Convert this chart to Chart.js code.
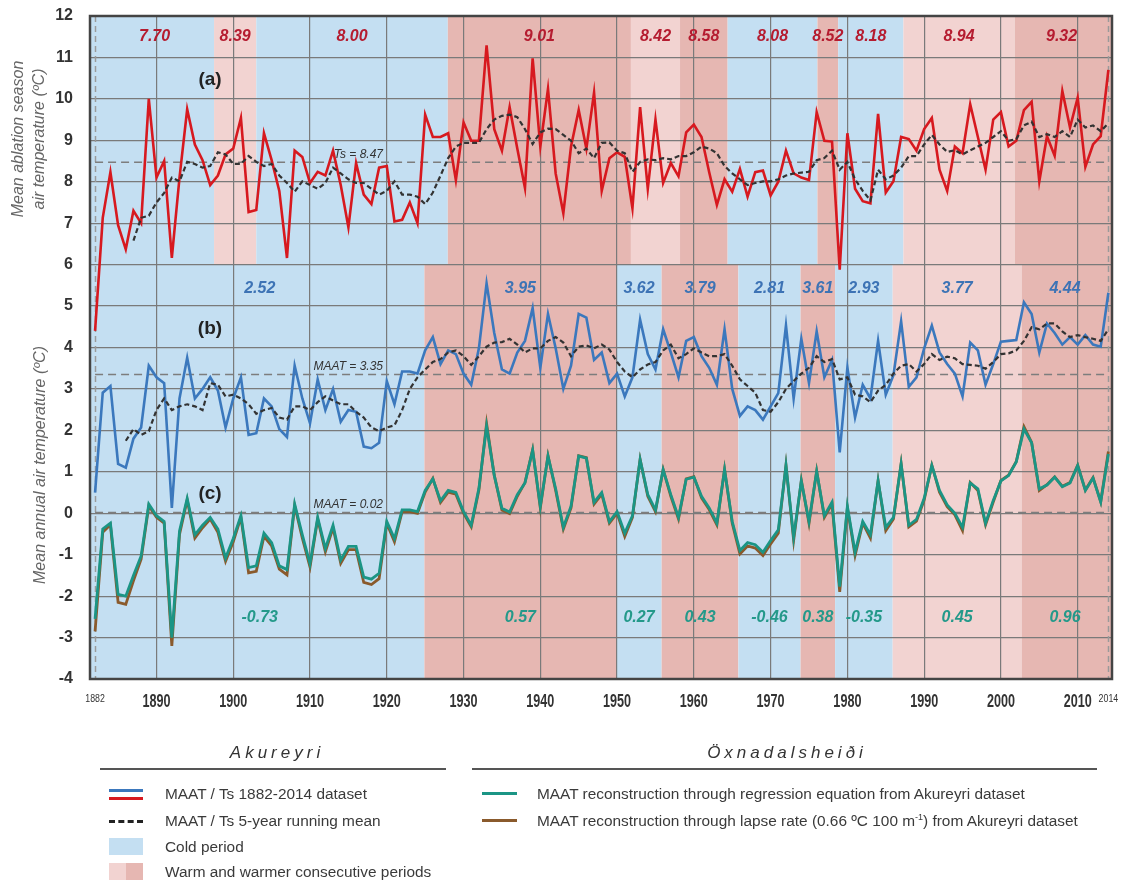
<!DOCTYPE html>
<html><head><meta charset="utf-8">
<script src="https://cdn.jsdelivr.net/npm/chart.js@4.4.1/dist/chart.umd.min.js"></script>
<style>
html,body{margin:0;padding:0;background:#fff;}
#wrap{position:relative;width:1128px;height:883px;overflow:hidden;font-family:"Liberation Sans",Arial,sans-serif;}
#c{position:absolute;left:0;top:0;}
.t{position:absolute;font-size:15.4px;color:#3a3a3a;white-space:nowrap;line-height:16px;}
.hd{position:absolute;font-size:17px;font-style:italic;color:#333;letter-spacing:4px;text-align:center;line-height:18px;}
.rule{position:absolute;height:2px;background:#555;}
.mk{position:absolute;}
</style></head>
<body><div id="wrap">
<canvas id="c" width="1128" height="883"></canvas>
<div class="hd" style="left:175px;top:744px;width:204px;">Akureyri</div>
<div class="hd" style="left:655px;top:744px;width:264px;">Öxnadalsheiði</div>
<div class="rule" style="left:100px;top:768px;width:346px;"></div>
<div class="rule" style="left:472px;top:768px;width:625px;"></div>

<div class="mk" style="left:109px;top:789px;width:34px;height:3px;background:#3b78bd;"></div>
<div class="mk" style="left:109px;top:797px;width:34px;height:3px;background:#d7191f;"></div>
<div class="t" style="left:165px;top:786px;">MAAT / Ts 1882-2014 dataset</div>

<div class="mk" style="left:109px;top:820px;width:34px;height:0;border-top:3px dashed #222;"></div>
<div class="t" style="left:165px;top:813px;">MAAT / Ts 5-year running mean</div>

<div class="mk" style="left:109px;top:838px;width:34px;height:17px;background:#c4dff2;"></div>
<div class="t" style="left:165px;top:839px;">Cold period</div>

<div class="mk" style="left:109px;top:863px;width:17px;height:17px;background:#f2d3d1;"></div>
<div class="mk" style="left:126px;top:863px;width:17px;height:17px;background:#e6b7b2;"></div>
<div class="t" style="left:165px;top:864px;">Warm and warmer consecutive periods</div>

<div class="mk" style="left:482px;top:792px;width:35px;height:3px;background:#1b9585;"></div>
<div class="t" style="left:537px;top:786px;">MAAT reconstruction through regression equation from Akureyri dataset</div>
<div class="mk" style="left:482px;top:819px;width:35px;height:3px;background:#8a5a2c;"></div>
<div class="t" style="left:537px;top:813px;">MAAT reconstruction through lapse rate (0.66 ºC 100 m<sup style="font-size:9px;line-height:0;">-1</sup>) from Akureyri dataset</div>
</div>
<script>
// ---------------- DATA ----------------
const years = [];
for (let yr = 1882; yr <= 2014; yr++) years.push(yr);

// Akureyri mean ablation season air temperature (Ts), 1882-2014
const tsAkureyri = [
  4.40, 7.13, 8.23, 6.95, 6.37, 7.30, 7.00, 10.00,
  8.10, 8.50, 6.16, 8.10, 9.75, 8.90, 8.52, 7.92, 8.15, 8.66,
  8.80, 9.54, 7.27, 7.32, 9.17, 8.52, 7.78, 6.16, 8.75, 8.60,
  7.97, 8.24, 8.15, 8.75, 7.92, 6.90, 8.45, 7.69, 7.46, 8.34,
  8.38, 7.04, 7.08, 7.50, 7.00, 9.62, 9.08, 9.08, 9.17, 8.04,
  9.43, 8.99, 8.99, 11.29, 9.27, 8.75, 9.80, 8.80, 7.85, 10.98,
  8.85, 10.24, 8.20, 7.24, 8.85, 9.73, 8.80, 10.15, 7.78, 8.57,
  8.71, 8.60, 7.36, 9.80, 7.83, 9.50, 7.97, 8.45, 8.13, 9.19,
  9.38, 9.08, 8.23, 7.44, 8.06, 7.76, 8.31, 7.64, 8.23, 8.27,
  7.67, 8.00, 8.75, 8.20, 8.10, 8.04, 9.68, 8.99, 8.97, 5.88,
  9.17, 7.83, 7.53, 7.48, 9.64, 7.74, 8.01, 9.08, 9.03, 8.75,
  9.27, 9.54, 8.29, 7.78, 8.85, 8.69, 9.87, 9.08, 8.29, 9.50,
  9.68, 8.85, 8.99, 9.73, 9.93, 8.01, 9.10, 8.63, 10.19, 9.31,
  10.03, 8.36, 8.90, 9.10, 10.70
];
// Ts 5-year running mean (starts 1887)
const tsRunningMean = [
  null, null, null, null, null, 6.58, 7.13, 7.18,
  7.50, 7.73, 8.10, 8.01, 8.48, 8.43, 8.34, 8.38, 8.71, 8.66,
  8.43, 8.43, 8.62, 8.48, 8.38, 8.43, 8.15, 7.97, 7.76, 8.01,
  7.92, 7.83, 7.97, 8.34, 8.20, 8.06, 7.97, 7.97, 7.83, 7.69,
  7.78, 8.01, 7.69, 7.69, 7.64, 7.46, 7.74, 8.15, 8.57, 8.85,
  8.94, 8.94, 8.94, 9.27, 9.50, 9.59, 9.62, 9.56, 9.27, 8.91,
  9.19, 9.28, 9.27, 9.13, 8.99, 8.69, 8.80, 8.57, 8.94, 8.95,
  8.75, 8.69, 8.24, 8.48, 8.54, 8.52, 8.57, 8.54, 8.62, 8.62,
  8.71, 8.85, 8.80, 8.69, 8.38, 8.20, 8.06, 7.92, 7.97, 8.01,
  8.01, 8.06, 8.15, 8.20, 8.22, 8.24, 8.52, 8.57, 8.75, 8.29,
  8.48, 8.06, 7.78, 7.55, 8.29, 8.06, 8.15, 8.34, 8.62, 8.62,
  8.90, 9.13, 8.90, 8.72, 8.76, 8.66, 8.76, 8.85, 8.94, 9.08,
  9.22, 8.99, 9.03, 9.36, 9.45, 9.08, 9.15, 9.08, 9.22, 9.08,
  9.50, 9.31, 9.36, 9.22, 9.41
];
// Akureyri mean annual air temperature (MAAT)
const maatAkureyri = [
  0.50, 2.91, 3.07, 1.19, 1.10, 1.80, 2.07, 3.56,
  3.28, 3.14, 0.13, 2.77, 3.75, 2.77, 3.00, 3.28, 2.96, 2.07,
  2.77, 3.28, 1.89, 1.93, 2.77, 2.58, 2.03, 1.84, 3.56, 2.77,
  2.17, 3.23, 2.49, 3.00, 2.21, 2.49, 2.45, 1.61, 1.57, 1.70,
  3.19, 2.63, 3.42, 3.42, 3.37, 3.93, 4.25, 3.60, 3.93, 3.84,
  3.37, 3.10, 3.98, 5.55, 4.35, 3.47, 3.37, 3.88, 4.16, 4.95,
  3.51, 4.81, 3.98, 3.00, 3.56, 4.81, 4.72, 3.70, 3.88, 3.14,
  3.37, 2.82, 3.28, 4.67, 3.84, 3.47, 4.44, 3.88, 3.28, 4.16,
  4.25, 3.79, 3.51, 3.10, 4.44, 3.00, 2.35, 2.58, 2.49, 2.26,
  2.58, 2.90, 4.53, 2.77, 4.21, 3.14, 4.39, 3.28, 3.70, 1.47,
  3.51, 2.31, 3.10, 2.77, 4.16, 2.86, 3.33, 4.63, 3.05, 3.28,
  3.98, 4.53, 3.88, 3.60, 3.37, 2.82, 4.12, 3.93, 3.10, 3.60,
  4.14, 4.16, 4.18, 5.09, 4.81, 3.88, 4.58, 4.35, 4.07, 4.25,
  4.07, 4.30, 4.07, 4.02, 5.32
];
// MAAT 5-year running mean (starts 1886)
const maatRunningMean = [
  null, null, null, null, 1.75, 2.03, 1.89, 1.98,
  2.49, 2.77, 2.49, 2.58, 2.63, 2.58, 2.49, 3.14, 3.10, 2.82,
  2.86, 2.77, 2.63, 2.40, 2.49, 2.54, 2.31, 2.26, 2.58, 2.58,
  2.49, 2.68, 2.82, 2.72, 2.63, 2.63, 2.45, 2.31, 2.07, 1.98,
  2.07, 2.12, 2.49, 3.00, 3.28, 3.47, 3.65, 3.72, 3.88, 3.93,
  3.79, 3.58, 3.79, 4.02, 4.12, 4.13, 4.21, 4.07, 3.88, 3.98,
  3.98, 4.16, 4.25, 4.12, 3.79, 4.02, 4.05, 3.98, 4.07, 3.95,
  3.65, 3.42, 3.28, 3.47, 3.59, 3.65, 3.93, 4.07, 3.74, 3.84,
  3.98, 3.88, 3.79, 3.79, 3.84, 3.56, 3.23, 3.07, 2.91, 2.49,
  2.45, 2.68, 3.00, 3.19, 3.37, 3.51, 3.79, 3.65, 3.72, 3.23,
  3.28, 2.86, 2.82, 2.68, 2.96, 3.10, 3.37, 3.56, 3.60, 3.42,
  3.60, 3.84, 3.70, 3.78, 3.74, 3.60, 3.58, 3.56, 3.49, 3.65,
  3.84, 3.86, 3.93, 4.16, 4.49, 4.44, 4.58, 4.58, 4.39, 4.25,
  4.30, 4.25, 4.21, 4.16, 4.44
];
// Öxnadalsheiði MAAT reconstruction, regression equation
const maatRegression = [
  -2.55, -0.38, -0.24, -1.96, -2.00, -1.50, -1.03, 0.22,
  -0.06, -0.20, -3.00, -0.43, 0.36, -0.52, -0.29, -0.10, -0.38, -1.08,
  -0.61, -0.06, -1.31, -1.27, -0.48, -0.71, -1.27, -1.36, 0.22, -0.52,
  -1.22, -0.10, -0.85, -0.29, -1.13, -0.80, -0.80, -1.54, -1.59, -1.45,
  -0.20, -0.61, 0.08, 0.08, 0.04, 0.55, 0.83, 0.30, 0.55, 0.50,
  0.04, -0.29, 0.60, 2.10, 0.91, 0.12, 0.03, 0.45, 0.73, 1.52,
  0.17, 1.38, 0.59, -0.34, 0.17, 1.38, 1.33, 0.26, 0.50, -0.20,
  0.04, -0.48, -0.06, 1.29, 0.45, 0.08, 1.05, 0.45, -0.10, 0.82,
  0.87, 0.41, 0.13, -0.24, 1.05, -0.20, -0.90, -0.71, -0.76, -0.94,
  -0.66, -0.40, 1.15, -0.57, 0.78, -0.20, 1.01, -0.06, 0.27, -1.77,
  0.17, -0.94, -0.20, -0.52, 0.78, -0.34, -0.10, 1.19, -0.29, -0.15,
  0.36, 1.15, 0.55, 0.20, 0.00, -0.34, 0.73, 0.59, -0.24, 0.31,
  0.78, 0.91, 1.24, 2.03, 1.70, 0.59, 0.68, 0.87, 0.64, 0.73,
  1.15, 0.55, 0.85, 0.27, 1.43
];
// Öxnadalsheiði MAAT reconstruction, lapse rate
const maatLapseRate = [
  -2.85, -0.46, -0.28, -2.15, -2.20, -1.63, -1.11, 0.18,
  -0.10, -0.24, -3.20, -0.51, 0.32, -0.60, -0.35, -0.14, -0.46, -1.16,
  -0.69, -0.10, -1.44, -1.40, -0.56, -0.79, -1.35, -1.49, 0.18, -0.60,
  -1.30, -0.14, -0.93, -0.35, -1.21, -0.88, -0.88, -1.67, -1.72, -1.58,
  -0.24, -0.69, 0.04, 0.04, 0.00, 0.51, 0.84, 0.26, 0.51, 0.46,
  0.00, -0.33, 0.56, 2.16, 0.92, 0.08, -0.01, 0.41, 0.74, 1.53,
  0.13, 1.39, 0.55, -0.38, 0.13, 1.39, 1.34, 0.22, 0.46, -0.24,
  0.00, -0.56, -0.10, 1.30, 0.41, 0.04, 1.06, 0.41, -0.14, 0.83,
  0.88, 0.37, 0.09, -0.28, 1.06, -0.24, -0.98, -0.79, -0.84, -1.02,
  -0.74, -0.48, 1.16, -0.65, 0.79, -0.24, 1.02, -0.10, 0.23, -1.90,
  0.13, -1.02, -0.24, -0.60, 0.79, -0.42, -0.14, 1.20, -0.33, -0.19,
  0.32, 1.16, 0.51, 0.16, -0.04, -0.42, 0.74, 0.55, -0.28, 0.27,
  0.79, 0.92, 1.25, 2.09, 1.71, 0.55, 0.69, 0.88, 0.65, 0.74,
  1.16, 0.56, 0.86, 0.28, 1.49
];

// Ts periods (top panel)
const tsPeriodStart = [1882, 1897.5, 1903.0, 1927.95, 1951.8, 1958.2, 1964.4, 1976.1, 1978.8, 1987.3, 2001.8];
const tsPeriodEnd   = [1897.5, 1903.0, 1927.95, 1951.8, 1958.2, 1964.4, 1976.1, 1978.8, 1987.3, 2001.8, 2014];
const tsPeriodKind  = ['cold','warm','cold','warmer','warm','warmer','cold','warmer','cold','warm','warmer'];
const tsPeriodMean  = ['7.70','8.39','8.00','9.01','8.42','8.58','8.08','8.52','8.18','8.94','9.32'];

// MAAT periods (lower panels)
const maatPeriodStart = [1882, 1924.9, 1949.9, 1955.8, 1965.8, 1973.9, 1978.4, 1985.9, 2002.7];
const maatPeriodEnd   = [1924.9, 1949.9, 1955.8, 1965.8, 1973.9, 1978.4, 1985.9, 2002.7, 2014];
const maatPeriodKind  = ['cold','warmer','cold','warmer','cold','warmer','cold','warm','warmer'];
const maatPeriodMean  = ['2.52','3.95','3.62','3.79','2.81','3.61','2.93','3.77','4.44'];
const oxnPeriodMean   = ['-0.73','0.57','0.27','0.43','-0.46','0.38','-0.35','0.45','0.96'];

// reference means
const refValues = [8.47, 3.35, 0.02];
const refLabels = ['Ts = 8.47', 'MAAT = 3.35', 'MAAT = 0.02'];

// axis ticks
const xTickYears = [1882, 1890, 1900, 1910, 1920, 1930, 1940, 1950, 1960, 1970, 1980, 1990, 2000, 2010, 2014];
const yTickStep = 1;

// ---------------- CHART ----------------
const toXY = arr => years.map((yr, i) => ({x: yr, y: arr[i]})).filter(p => p.y !== null);
const bandColor = {cold: '#c4dff2', warm: '#f2d3d1', warmer: '#e6b7b2'};
const FONT = '"Liberation Sans", Arial, sans-serif';
const isEdge = v => v === 1882 || v === 2014;

const deco = {
  id: 'deco',
  beforeDraw(chart) {
    const {ctx, chartArea: a, scales: {x, y}} = chart;
    ctx.save();
    ctx.fillStyle = '#fff';
    ctx.fillRect(0, 0, chart.width, chart.height);
    const yTop = y.getPixelForValue(12), yMid = y.getPixelForValue(6), yBot = y.getPixelForValue(-4);
    tsPeriodStart.forEach((s, i) => {
      const x0 = i === 0 ? a.left : x.getPixelForValue(s);
      const x1 = i === tsPeriodStart.length - 1 ? a.right : x.getPixelForValue(tsPeriodEnd[i]);
      ctx.fillStyle = bandColor[tsPeriodKind[i]];
      ctx.fillRect(x0, yTop, x1 - x0, yMid - yTop);
    });
    maatPeriodStart.forEach((s, i) => {
      const x0 = i === 0 ? a.left : x.getPixelForValue(s);
      const x1 = i === maatPeriodStart.length - 1 ? a.right : x.getPixelForValue(maatPeriodEnd[i]);
      ctx.fillStyle = bandColor[maatPeriodKind[i]];
      ctx.fillRect(x0, yMid, x1 - x0, yBot - yMid);
    });
    ctx.restore();
  },
  beforeDatasetsDraw(chart) {
    const {ctx, chartArea: a, scales: {x, y}} = chart;
    ctx.save();
    ctx.strokeStyle = '#9a9a9a';
    ctx.lineWidth = 1.5;
    ctx.setLineDash([6, 4]);
    [1882, 2014].forEach(v => {
      const xp = Math.round(x.getPixelForValue(v)) + 0.5;
      ctx.beginPath(); ctx.moveTo(xp, a.top); ctx.lineTo(xp, a.bottom); ctx.stroke();
    });
    ctx.strokeStyle = '#7d7d7d';
    ctx.setLineDash([8, 5]);
    refValues.forEach((v, i) => {
      const yp = y.getPixelForValue(v);
      ctx.beginPath(); ctx.moveTo(x.getPixelForValue(1882), yp); ctx.lineTo(x.getPixelForValue(2014), yp); ctx.stroke();
      ctx.font = 'italic 12px ' + FONT;
      ctx.fillStyle = '#333';
      ctx.textAlign = 'right';
      ctx.textBaseline = 'alphabetic';
      ctx.fillText(refLabels[i], 383, yp - 4);
    });
    ctx.restore();
  },
  afterDraw(chart) {
    const {ctx, chartArea: a, scales: {x, y}} = chart;
    ctx.save();
    // frame
    ctx.strokeStyle = '#444';
    ctx.lineWidth = 2.5;
    ctx.strokeRect(a.left, a.top, a.right - a.left, a.bottom - a.top);
    // x tick labels (condensed), taken from the axis ticks
    ctx.fillStyle = '#333';
    ctx.textAlign = 'center';
    ctx.textBaseline = 'middle';
    x.ticks.forEach(t => {
      const xp = x.getPixelForValue(t.value);
      ctx.save();
      if (isEdge(t.value)) {
        ctx.translate(xp, 698.5); ctx.scale(0.8, 1);
        ctx.font = '11px ' + FONT;
      } else {
        ctx.translate(xp, 702); ctx.scale(0.7, 1);
        ctx.font = 'bold 18px ' + FONT;
      }
      ctx.fillText(String(t.value), 0, 0);
      ctx.restore();
    });
    // period means
    ctx.font = 'italic bold 16px ' + FONT;
    const cx = (s, e) => (x.getPixelForValue(s) + x.getPixelForValue(e)) / 2;
    ctx.fillStyle = '#b51c30';
    tsPeriodMean.forEach((t, i) => ctx.fillText(t, cx(tsPeriodStart[i], tsPeriodEnd[i]), y.getPixelForValue(11.5)));
    ctx.fillStyle = '#3d73b5';
    maatPeriodMean.forEach((t, i) => ctx.fillText(t, cx(maatPeriodStart[i], maatPeriodEnd[i]), y.getPixelForValue(5.41)));
    ctx.fillStyle = '#24998a';
    oxnPeriodMean.forEach((t, i) => ctx.fillText(t, cx(maatPeriodStart[i], maatPeriodEnd[i]), y.getPixelForValue(-2.53)));
    // panel letters
    ctx.fillStyle = '#222';
    ctx.font = 'bold 19px ' + FONT;
    ctx.fillText('(a)', 210, y.getPixelForValue(10.45));
    ctx.fillText('(b)', 210, y.getPixelForValue(4.45));
    ctx.fillText('(c)', 210, y.getPixelForValue(0.47));
    // axis titles
    ctx.fillStyle = '#666';
    ctx.font = 'italic 16px ' + FONT;
    const vtext = (t, xx, yy) => { ctx.save(); ctx.translate(xx, yy); ctx.rotate(-Math.PI / 2); ctx.fillText(t, 0, 0); ctx.restore(); };
    vtext('Mean ablation season', 19, 139);
    vtext('air temperature (ºC)', 39.5, 139);
    vtext('Mean annual air temperature (ºC)', 41, 465);
    ctx.restore();
  }
};

const lineDs = (label, arr, color, width, dash) => ({
  label, data: toXY(arr), borderColor: color, borderWidth: width,
  borderDash: dash || [], pointRadius: 0, tension: 0, fill: false, spanGaps: false
});

new Chart(document.getElementById('c'), {
  type: 'line',
  data: {
    datasets: [
      lineDs('Ts 5-year running mean', tsRunningMean, '#333', 2.2, [5, 3]),
      lineDs('MAAT 5-year running mean', maatRunningMean, '#333', 2.2, [5, 3]),
      lineDs('Ts 1882-2014', tsAkureyri, '#d7191f', 2.6),
      lineDs('MAAT 1882-2014', maatAkureyri, '#3b78bd', 2.6),
      lineDs('MAAT regression', maatRegression, '#1b9585', 2.8),
      lineDs('MAAT lapse rate', maatLapseRate, '#8a5a2c', 2.8)
    ]
  },
  options: {
    responsive: false,
    animation: false,
    devicePixelRatio: 1,
    layout: {padding: {top: 16, right: 16, left: 0, bottom: 0}},
    plugins: {legend: {display: false}, tooltip: {enabled: false}},
    scales: {
      x: {
        type: 'linear', min: 1881.34, max: 2014.47,
        afterBuildTicks: s => { s.ticks = xTickYears.map(v => ({value: v})); },
        afterFit: s => { s.height = 204; s.paddingLeft = 0; s.paddingRight = 0; },
        border: {display: false},
        grid: {
          drawTicks: false, lineWidth: 1.2,
          color: c => (c.tick && isEdge(c.tick.value)) ? 'rgba(0,0,0,0)' : '#7a7a7a'
        },
        ticks: {display: false, autoSkip: false, maxRotation: 0, callback: v => String(v)}
      },
      y: {
        min: -4, max: 12,
        afterFit: s => { s.width = 90; s.paddingTop = 0; s.paddingBottom = 0; },
        border: {display: false},
        grid: {drawTicks: false, lineWidth: 1.2, color: '#7a7a7a'},
        ticks: {stepSize: yTickStep, padding: 17, color: '#333', callback: v => String(v),
          font: {family: FONT, size: 16, weight: 'bold'}}
      }
    }
  },
  plugins: [deco]
});
</script>
</body></html>
